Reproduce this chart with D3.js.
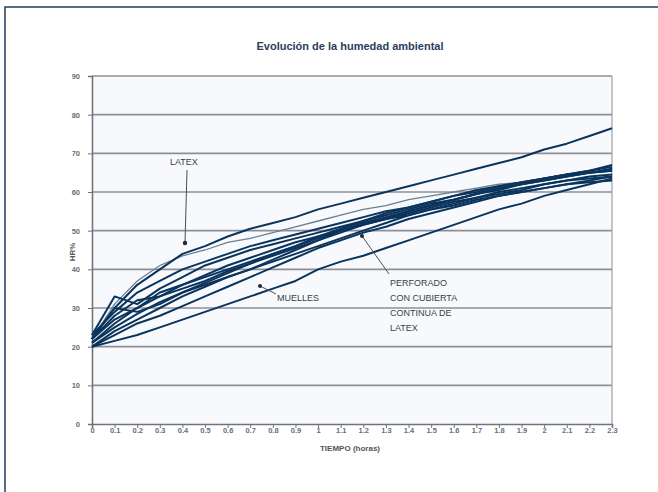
<!DOCTYPE html>
<html><head><meta charset="utf-8">
<script src="https://cdn.jsdelivr.net/npm/d3@7"></script>
<style>body{margin:0;background:#fff}svg{display:block}</style>
</head><body><svg id="c" width="658" height="492"></svg>
<script>
const xTicks = [0,0.1,0.2,0.3,0.4,0.5,0.6,0.7,0.8,0.9,1,1.1,1.2,1.3,1.4,1.5,1.6,1.7,1.8,1.9,2,2.1,2.2,2.3];
const yTicks = [0,10,20,30,40,50,60,70,80,90];
const title = "Evolución de la humedad ambiental";
const xTitle = "TIEMPO (horas)";
const yTitle = "HR%";
// series values at t = 0 ... 2.3 (step 0.1)
const sTop   = [22,30,36,40,44,46,48.5,50.5,52,53.5,55.5,57,58.5,60,61.5,63,64.5,66,67.5,69,71,72.5,74.5,76.5];
const sLatex = [22,31,37,41,43.5,45,47,48,49.5,51,52.5,54,55.5,56.5,58,59,60,61,62,62.5,63.5,64,65,66];
const s2  = [23,33,31,35,38,41,43,45,46.5,48,49.5,51,52.5,54,55.5,57,58,59.5,60.5,62,63,64,65,66];
const s3  = [21,26,30,33,36,38.5,41,43,45,47,48.5,50,52,53.5,55,56.5,58,59.5,61,62,63.5,64.5,65.5,67];
const s4  = [22,28,32,33,35,37,39.5,41.5,43.5,45.5,47.5,49.5,51.5,53,55,56.5,58,59.5,61,62,63,64,65,65.5];
const s5  = [20,24,27,30,33,35.5,38,40,42,44,46,48,50,52,54,55.5,57,58.5,60,61,62,63,64,64.5];
const s6  = [22,30,29,31,34,36,38,40,42.5,45,47.5,50,52,53,54.5,56,57.5,58.5,59.5,60.5,62,63,63.5,64];
const s7  = [21,25,28.5,31.5,34,36.5,39,41.5,44,46,48,50,51.5,53,54,55.5,56.5,58,59,60,61,62,62.5,63];
const s8  = [23,29,34,37,40,42,44,46,47.5,49,50.5,52,53.5,55,56,57.5,59,60,61.5,62.5,63.5,64.5,65.5,66.5];
const s10 = [20,23,26,28,30.5,33,35.5,38,40.5,43,45.5,47.5,49.5,51,53,54.5,56,57.5,59,60,61,62,63,64];
const s11 = [22,27,30,34,36,38,40,42,44,46,48.5,50.5,52.5,54.5,56,57.5,59,60.5,61.5,62.5,63.5,64.5,65,65.5];
const sLow = [20,21.5,23,25,27,29,31,33,35,37,40,42,43.5,45.5,47.5,49.5,51.5,53.5,55.5,57,59,60.5,62,63.5];
const darkSeries = [sTop,s2,s3,s4,s5,s6,s7,s8,s10,s11,sLow];

const svg = d3.select("#c");
// outer frame (top/left visible)
svg.append("rect").attr("x",5).attr("y",7).attr("width",700).attr("height",600)
  .attr("fill","none").attr("stroke","#1f3d5e").attr("stroke-width",1.5);

const m = {l:92, r:612, t:76, b:424};
const x = d3.scaleLinear().domain([0,2.3]).range([m.l,m.r]);
const y = d3.scaleLinear().domain([0,90]).range([m.b,m.t]);

svg.append("rect").attr("x",m.l).attr("y",m.t).attr("width",m.r-m.l).attr("height",m.b-m.t)
  .attr("fill","#f7f9fc");

// gridlines
svg.append("g").selectAll("line").data(yTicks.filter(d=>d>0)).join("line")
  .attr("x1",m.l).attr("x2",m.r).attr("y1",d=>y(d)).attr("y2",d=>y(d))
  .attr("stroke","#8c9096").attr("stroke-width",1.6);
// right border
svg.append("line").attr("x1",m.r).attr("x2",m.r).attr("y1",m.t).attr("y2",m.b)
  .attr("stroke","#9aa0a6").attr("stroke-width",1.2);

// y axis
const ya = svg.append("g").attr("transform",`translate(${m.l},0)`)
  .call(d3.axisLeft(y).tickValues(yTicks).tickSize(4).tickFormat(d3.format("d")));
ya.select(".domain").attr("stroke","#6f747a").attr("stroke-width",1.6);
ya.selectAll(".tick line").attr("stroke","#6f747a");
ya.selectAll("text").attr("font-family","Liberation Sans, Arial, sans-serif").attr("font-size",7.5).attr("fill","#6a6e74").attr("font-weight","bold").attr("dx",-5);

// x axis
const xa = svg.append("g").attr("transform",`translate(0,${m.b})`)
  .call(d3.axisBottom(x).tickValues(xTicks).tickSize(4).tickFormat(d=>String(d)));
xa.select(".domain").attr("stroke","#6f747a").attr("stroke-width",1.6);
xa.selectAll(".tick line").attr("stroke","#6f747a");
xa.selectAll("text").attr("font-family","Liberation Sans, Arial, sans-serif").attr("font-size",7.5).attr("fill","#6a6e74").attr("font-weight","bold").attr("dy",2);

const line = d3.line().x((d,i)=>x(xTicks[i])).y(d=>y(d));
// light latex line
svg.append("path").datum(sLatex).attr("d",line).attr("fill","none")
  .attr("stroke","#6b7f94").attr("stroke-width",1.3);
svg.append("g").selectAll("path").data(darkSeries).join("path")
  .attr("d",line).attr("fill","none").attr("stroke","#0b345d").attr("stroke-width",2)
  .attr("stroke-linejoin","round");

// titles
const ff = "Liberation Sans, Arial, sans-serif";
svg.append("text").attr("x",350).attr("y",50).attr("text-anchor","middle")
  .attr("font-family",ff).attr("font-weight","bold").attr("font-size",11).attr("fill","#2b3e5c").text(title);
svg.append("text").attr("x",350).attr("y",451).attr("text-anchor","middle")
  .attr("font-family",ff).attr("font-weight","bold").attr("font-size",8).attr("fill","#555").text(xTitle);
svg.append("text").attr("transform","translate(75,252) rotate(-90)").attr("text-anchor","middle")
  .attr("font-family",ff).attr("font-weight","bold").attr("font-size",8).attr("fill","#555").text(yTitle);

// annotations
const ann = svg.append("g").attr("font-family",ff).attr("font-size",9).attr("fill","#3a3f45");
ann.append("text").attr("x",170).attr("y",165).text("LATEX");
ann.append("text").attr("x",277).attr("y",301).text("MUELLES");
["PERFORADO","CON CUBIERTA","CONTINUA DE","LATEX"].forEach((t,i)=>
  ann.append("text").attr("x",390).attr("y",286+i*15).text(t));
const arr = svg.append("g").attr("stroke","#4a4f55").attr("stroke-width",1);
arr.append("line").attr("x1",187).attr("y1",170).attr("x2",185).attr("y2",243);
arr.append("line").attr("x1",276).attr("y1",294).attr("x2",260).attr("y2",286);
arr.append("line").attr("x1",389).attr("y1",274).attr("x2",362).attr("y2",236);
svg.append("circle").attr("cx",185).attr("cy",243).attr("r",2.2).attr("fill","#1f2a36");
svg.append("circle").attr("cx",260).attr("cy",286).attr("r",2).attr("fill","#1f2a36");
svg.append("circle").attr("cx",362).attr("cy",236).attr("r",2).attr("fill","#1f2a36");
</script></body></html>
